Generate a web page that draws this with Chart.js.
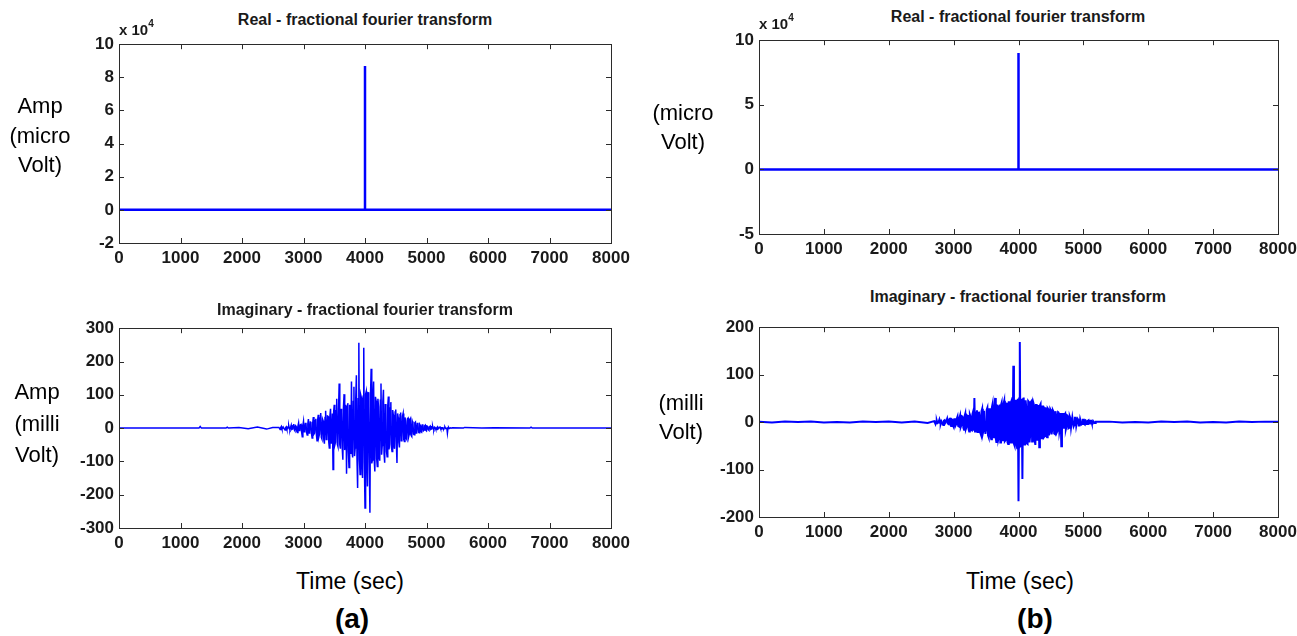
<!DOCTYPE html>
<html>
<head>
<meta charset="utf-8">
<script src="https://cdn.jsdelivr.net/npm/chart.js@4.4.0/dist/chart.umd.min.js"></script>
<style>
  html, body { margin: 0; padding: 0; background: #ffffff; }
  body { width: 1297px; height: 636px; position: relative; overflow: hidden; font-family: "Liberation Sans", Arial, sans-serif; color: #000; }
  canvas { position: absolute; }
  .lbl { position: absolute; transform: translate(-50%, -50%); white-space: nowrap; line-height: 1; }
  .title { font-family: "Liberation Sans Narrow", "Liberation Sans", Arial, sans-serif; font-weight: bold; font-size: 16px; color: #1a1a1a; }
  .ylab { font-size: 22px; }
  .xlab { font-size: 23px; }
  .panel { font-size: 28px; font-weight: bold; }
  .exp { position: absolute; font-family: "Liberation Sans Narrow", "Liberation Sans", Arial, sans-serif; font-weight: bold; font-size: 15px; color: #1a1a1a; line-height: 1; }
  .exp sup { font-size: 10px; position: relative; top: -2px; }
</style>
</head>
<body>
<canvas id="realA" width="587" height="244" style="left:49px;top:29px"></canvas>
<canvas id="imagA" width="587" height="245" style="left:49px;top:313px"></canvas>
<canvas id="realB" width="614" height="239" style="left:689px;top:25px"></canvas>
<canvas id="imagB" width="614" height="235" style="left:689px;top:312px"></canvas>

<div class="lbl title" style="left:365px;top:20px">Real - fractional fourier transform</div>
<div class="lbl title" style="left:365px;top:310px">Imaginary - fractional fourier transform</div>
<div class="lbl title" style="left:1018px;top:17px">Real - fractional fourier transform</div>
<div class="lbl title" style="left:1018px;top:297px">Imaginary - fractional fourier transform</div>

<div class="exp" style="left:119px;top:21px">x 10<sup>4</sup></div>
<div class="exp" style="left:759px;top:15px">x 10<sup>4</sup></div>

<div class="lbl ylab" style="left:40px;top:106px">Amp</div>
<div class="lbl ylab" style="left:40px;top:136px">(micro</div>
<div class="lbl ylab" style="left:40px;top:165px">Volt)</div>
<div class="lbl ylab" style="left:37px;top:392px">Amp</div>
<div class="lbl ylab" style="left:37px;top:424px">(milli</div>
<div class="lbl ylab" style="left:37px;top:455px">Volt)</div>
<div class="lbl ylab" style="left:683px;top:113px">(micro</div>
<div class="lbl ylab" style="left:683px;top:142px">Volt)</div>
<div class="lbl ylab" style="left:681px;top:403px">(milli</div>
<div class="lbl ylab" style="left:681px;top:432px">Volt)</div>

<div class="lbl xlab" style="left:350px;top:581px">Time (sec)</div>
<div class="lbl panel" style="left:352px;top:619px">(a)</div>
<div class="lbl xlab" style="left:1020px;top:581px">Time (sec)</div>
<div class="lbl panel" style="left:1035px;top:619px">(b)</div>

<script>
// real part: a single spike at 4000 s
const realTimes = [0, 4000, 4000, 4000, 4000, 8000];
const realValuesA = [0, 0, 86800, -600, 0, 0];
const realValuesB = [0, 0, 90000, 0, 0, 0];

// imaginary part (a), burst sampled every 10 s from 2600 s
const preTimesA = [0, 1300, 1320, 1340, 1740, 1760, 1780, 1950, 2100, 2250, 2400, 2500];
const preValuesA = [0, 0, 5, 0, 0, 3, 0, 2, -2, 3, -3, 2];
const burstStartA = 2600;
const burstStepA = 10;
const burstValuesA = [
  2, -1, -4, 2, 5, -2, -1, 3, 3, -3, -6, 2, 4, -3, -2, 4, 7, -2, -5, 3,
  9, -4, -3, 6, 12, -5, -8, 7, 5, -9, -13, 6, 15, -7, -6, 10, 11, -12, -26, 8,
  20, -11, -9, 14, 16, -13, -21, 12, 27, -15, -12, 18, 19, -16, -30, 15, 33, -18, -15, 22,
  28, -20, -38, 24, 40, -26, -18, 30, 45, -28, -33, 27, 22, -35, -47, 32, 52, -34, -28, 36,
  35, -40, -60, 38, 58, -45, -25, 44, -124, 48, 70, -50, -42, 52, 88, -48, -55, 56, 134, -50,
  -62, 58, 48, -60, -95, 62, 102, -66, -38, 70, -137, 64, 75, -72, -118, 70, 60, -78, 140, -74,
  -88, 80, 124, -84, -60, 90, 159, -92, -180, 88, 256, -95, -139, 100, 92, -98, -150, 96, 241, -104,
  -240, 102, 110, -100, -175, 108, 68, -104, -254, 100, 178, -106, -96, 98, 140, -96, -130, 94, 82, -92,
  -115, 88, 64, -86, -98, 84, 134, -80, -52, 78, 115, -76, -104, 72, 58, -70, -86, 66, 95, -64,
  -48, 60, 78, -58, -70, 54, 40, -52, -62, 48, 56, -46, -105, 44, 32, -42, -58, 40, 47, -38,
  -30, 36, 44, -34, -40, 32, 22, -30, -34, 28, 30, -26, -18, 24, 28, -22, -25, 20, 14, -18,
  -20, 16, 18, -15, -10, 14, 16, -12, -14, 11, 8, -10, -12, 9, 11, -8, -6, 7, 9, -6,
  -8, 6, 5, -5, -7, 4, 6, -4, -3, 4, 5, -3, -5, 3, 2, -3, -4, 2, 4, -2,
  -2, 2, 3, -2, -3, 1, 1, -1, -2, 2, 3, -1, -1, 2, -15, 1, 2, -1, -1, 1,
  0
];
const postTimesA = [5420, 5600, 5620, 5900, 6100, 6680, 6700, 6720, 8000];
const postValuesA = [1, 0, 2, 0, 1, 0, 3, 0, 0];

// imaginary part (b), burst sampled every 10 s from 2700 s
const preTimesB = [0, 200, 400, 600, 800, 1000, 1200, 1400, 1600, 1800, 2000, 2200, 2400, 2600];
const preValuesB = [1, -1, 1, 0, 1, -1, 0, -1, 1, 0, 1, -1, 1, -2];
const burstStartB = 2700;
const burstStepB = 10;
const burstValuesB = [
  2, -1, -4, 2, 3, -2, -1, 1, 5, -2, -3, 2, 2, -3, -6, 3, 4, -2, -2, 3,
  7, -3, -4, 5, 9, -5, -8, 6, 5, -7, -10, 6, 8, -7, -4, 8, 12, -8, -9, 9,
  14, -10, -6, 12, 11, -12, -16, 13, 18, -14, -10, 14, 15, -15, -20, 16, 12, -16, -17, 17,
  22, -18, 51, -20, -14, 20, 25, -21, -21, 22, 12, -22, -26, 23, 28, -24, -18, 24, 24, -25,
  -15, 26, 30, -28, -32, 29, 20, -30, -36, 31, 38, -32, -22, 33, 51, -34, -44, 35, 34, -36,
  -30, 37, -43, 36, 41, -38, -26, 39, 45, -40, -38, 41, 28, -42, -46, 42, 42, -43, -34, 44,
  48, -45, 119, -46, -50, 47, 36, -48, -55, 49, -167, 50, 169, -50, -48, 49, -120, 48, 52, -47,
  -38, 46, 30, -45, -46, 44, 42, -43, -28, 42, 44, -41, -40, 40, 35, -39, -48, 38, 26, -37,
  -36, 36, -53, 35, 38, -34, -22, 33, 33, -32, -30, 31, 18, -30, -32, 29, 27, -28, -20, 27,
  24, -26, -16, 25, 22, -24, -25, 23, 14, -22, -19, 21, 20, -20, -12, 19, -51, -18, 17, 17,
  -14, 16, 18, -15, -9, 14, 13, -13, -12, 12, 8, -11, -11, 10, 10, -9, -6, 9, 9, -8,
  -8, 7, 5, -7, -7, 6, 6, -5, -4, 5, 5, -4, -5, 4, 3, -4, -4, 3, 4, -3,
  -2, 3, 3, -2, -3, 2, 2, -2, -2, 1,
  1
];
const postTimesB = [5400, 5600, 5800, 6000, 6200, 6400, 6600, 6800, 7000, 7200, 7400, 7600, 7800, 8000];
const postValuesB = [1, -1, 0, -1, 1, 0, 1, -1, 0, -1, 1, 0, 1, 1];

const xTicks = [0, 1000, 2000, 3000, 4000, 5000, 6000, 7000, 8000];

const blue = "#0000ff";
const frame = "#2b2b2b";
const tickFont = { family: "'Liberation Sans Narrow', 'Liberation Sans', Arial, sans-serif", size: 17, weight: "bold" };

function pairs(times, values) {
  return times.map((t, i) => ({ x: t, y: values[i] }));
}

function burst(start, step, values) {
  return values.map((v, i) => ({ x: start + i * step, y: v }));
}

// MATLAB style box with inward ticks on all four sides
const boxPlugin = {
  id: "matlabBox",
  afterDraw(chart) {
    const { ctx, chartArea, scales } = chart;
    const { left, right, top, bottom } = chartArea;
    const len = 5;
    ctx.save();
    ctx.strokeStyle = frame;
    ctx.lineWidth = 1;
    ctx.beginPath();
    scales.x.ticks.forEach((t) => {
      const x = Math.round(scales.x.getPixelForValue(t.value)) + 0.5;
      ctx.moveTo(x, bottom);
      ctx.lineTo(x, bottom - len);
      ctx.moveTo(x, top);
      ctx.lineTo(x, top + len);
    });
    scales.y.ticks.forEach((t) => {
      const y = Math.round(scales.y.getPixelForValue(t.value)) + 0.5;
      ctx.moveTo(left, y);
      ctx.lineTo(left + len, y);
      ctx.moveTo(right, y);
      ctx.lineTo(right - len, y);
    });
    ctx.stroke();
    ctx.strokeRect(Math.round(left) + 0.5, Math.round(top) + 0.5, Math.round(right - left), Math.round(bottom - top));
    ctx.restore();
  }
};

function makePanel(id, points, width, yMin, yMax, yStep, yScaleDiv) {
  new Chart(document.getElementById(id), {
    type: "line",
    plugins: [boxPlugin],
    data: {
      datasets: [{
        data: points,
        borderColor: blue,
        borderWidth: width,
        pointRadius: 0,
        tension: 0,
        fill: false
      }]
    },
    options: {
      responsive: false,
      animation: false,
      events: [],
      layout: { padding: { left: 0, top: 10, right: 25, bottom: 0 } },
      plugins: { legend: { display: false }, tooltip: { enabled: false } },
      scales: {
        x: {
          type: "linear",
          min: 0,
          max: 8000,
          afterFit(scale) { scale.height = 30; },
          afterBuildTicks(scale) { scale.ticks = xTicks.map((v) => ({ value: v })); },
          grid: { display: false, drawTicks: false },
          border: { display: false },
          ticks: { color: "#1a1a1a", font: tickFont, padding: 5, maxRotation: 0, autoSkip: false, callback: (v) => String(v) }
        },
        y: {
          type: "linear",
          min: yMin,
          max: yMax,
          afterFit(scale) { scale.width = 70; },
          grid: { display: false, drawTicks: false },
          border: { display: false },
          ticks: { color: "#1a1a1a", font: tickFont, padding: 5, stepSize: yStep, callback: (v) => String(v / yScaleDiv) }
        }
      }
    }
  });
}

makePanel("realA", pairs(realTimes, realValuesA), 2.5, -20000, 100000, 20000, 10000);
makePanel("imagA",
  pairs(preTimesA, preValuesA).concat(burst(burstStartA, burstStepA, burstValuesA), pairs(postTimesA, postValuesA)),
  1.5, -300, 300, 100, 1);
makePanel("realB", pairs(realTimes, realValuesB), 2.5, -50000, 100000, 50000, 10000);
makePanel("imagB",
  pairs(preTimesB, preValuesB).concat(burst(burstStartB, burstStepB, burstValuesB), pairs(postTimesB, postValuesB)),
  2, -200, 200, 100, 1);
</script>
</body>
</html>
